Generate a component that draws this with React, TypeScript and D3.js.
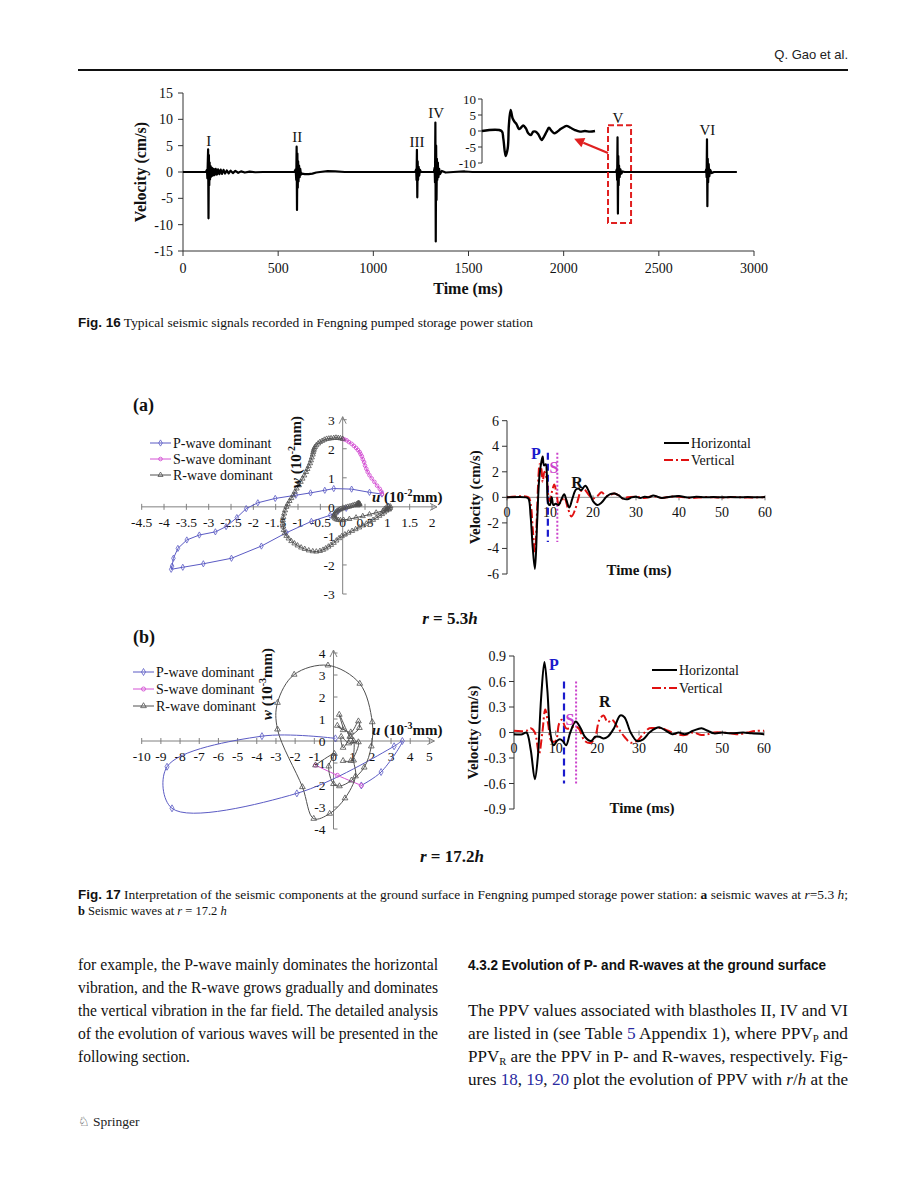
import React from "react";
import * as d3 from "d3";

type P = [number, number];

const SERIF = "'Liberation Serif','Times New Roman',Times,serif";
const NARROW = "'Liberation Sans Narrow','Liberation Sans',Arial,sans-serif";

// ---------------- Fig. 16 data ----------------
const f16XTicks = [0, 500, 1000, 1500, 2000, 2500, 3000];
const f16YTicks = [-15, -10, -5, 0, 5, 10, 15];
const f16Baseline: P[] = [[0, 0], [1000, 0], [1150, 0], [1700, 0], [2000, 0], [2500, 0], [2650, 0], [2910, 0]];
const burstI: P[] = [[120, 0], [126, 0.4], [128, -1.2], [130, 1.5], [132, 4.3], [134, -8.8], [136, 3.2], [138, -2.5], [140, 1.8], [142, -1.4], [145, 1.1], [148, -0.9], [152, 0.8], [156, -0.7], [161, 0.6], [166, -0.6], [172, 0.6], [178, -0.5], [184, 0.5], [191, -0.4], [198, 0.45], [205, -0.35], [213, 0.4], [221, -0.3], [230, 0.3], [240, -0.25], [250, 0.25], [262, -0.2], [275, 0.2], [290, -0.15], [305, 0.12], [325, -0.1], [350, 0.08], [380, -0.05], [420, 0]];
const burstII: P[] = [[585, 0], [592, 0.5], [595, -1.5], [597, 4.8], [599, -7.2], [601, 3.5], [603, -3], [605, 2], [607, -1.8], [610, 1.2], [613, -1], [616, 0.6], [620, -0.5], [625, -0.3], [640, -0.4], [660, -0.4], [680, -0.3], [700, -0.1], [720, 0], [760, 0.15], [800, 0.1], [850, 0]];
const burstIII: P[] = [[1220, 0], [1225, 0.5], [1227, -1.5], [1229, 4.2], [1231, -4.8], [1233, 2], [1235, -1.5], [1238, 1], [1241, -0.7], [1245, 0.4], [1250, 0]];
const burstIV: P[] = [[1318, 0], [1322, 0.8], [1324, -2], [1326, 9.4], [1328, -13.2], [1330, 5], [1332, -5.3], [1334, 2.5], [1336, -1.5], [1339, 1.8], [1342, -1.0], [1346, 0.6], [1350, -0.4], [1360, 0.2], [1380, -0.1], [1420, 0], [1480, 0.1], [1520, 0]];
const burstV: P[] = [[2275, 0], [2279, 0.5], [2281, -1.5], [2283, 6.6], [2285, -7.9], [2287, 3], [2289, -2.5], [2291, 1.2], [2294, -1], [2298, 0.5], [2303, -0.3], [2310, 0.1], [2320, 0]];
const burstVI: P[] = [[2745, 0], [2749, 0.5], [2751, -1], [2753, 6.2], [2755, -6.5], [2757, 2.5], [2759, -2], [2762, 1.5], [2765, -0.8], [2770, 0.4], [2778, -0.2], [2790, 0]];
const burstLabels = [
  { t: 135, v: 5.9, text: "I" },
  { t: 600, v: 6.6, text: "II" },
  { t: 1230, v: 5.7, text: "III" },
  { t: 1330, v: 11.2, text: "IV" },
  { t: 2285, v: 10.2, text: "V" },
  { t: 2755, v: 8.0, text: "VI" },
];
const insetYTicks = [-10, -5, 0, 5, 10];
const insetSignal: P[] = [[0, 0], [10.1, 0], [11, -2.3], [12.2, -7.8], [13.3, -5.4], [13.9, 1.9], [14.8, 6.6], [15.8, 4.0], [16.8, 2.9], [17.9, 2.1], [19.1, 0.6], [20.1, 1.0], [21.3, 1.7], [22.7, 0.8], [23.9, -0.7], [25.3, -1.25], [26.5, -0.2], [27.7, -0.2], [29.1, -1.0], [30.8, -2.8], [32, -1.8], [33.4, -0.2], [34.6, 1.0], [36, 0], [37.3, -0.7], [38.9, -0.2], [40.6, 0.6], [42.4, 1.25], [43.7, 1.6], [45.8, 1.0], [48, 0.3], [50.6, -0.2], [53.2, 0], [55.8, -0.2], [58.4, 0]];
const zoomBox = { t0: 2233, t1: 2354, v0: -9.7, v1: 8.9 };
const zoomArrow = { t0: 2233, v0: 3.6, t1: 2055, v1: 6.3 };

// ---------------- Fig. 17a hodograph ----------------
const hodoAXTicks = [-4.5, -4, -3.5, -3, -2.5, -2, -1.5, -1, -0.5, 0, 0.5, 1, 1.5, 2];
const hodoAYTicks = [-3, -2, -1, 0, 1, 2, 3];
const hodoA_P: P[] = [[0.08, -0.05], [-0.1, -0.15], [-0.28, -0.29], [-0.7, -0.5], [-1.26, -0.89], [-1.82, -1.35], [-2.49, -1.77], [-3.12, -1.96], [-3.58, -2.08], [-3.84, -2.15], [-3.82, -2.04], [-3.79, -1.77], [-3.69, -1.43], [-3.49, -1.14], [-3.21, -0.97], [-2.85, -0.86], [-2.61, -0.68], [-2.37, -0.37], [-2.16, -0.06], [-1.9, 0.14], [-1.51, 0.29], [-1.05, 0.4], [-0.72, 0.48], [-0.4, 0.57], [-0.2, 0.63], [0.2, 0.61], [0.6, 0.5], [0.88, 0.44]];
const hodoA_S: P[] = [[0.88, 0.44], [0.87, 0.52], [0.83, 0.62], [0.77, 0.73], [0.71, 0.86], [0.65, 0.98], [0.6, 1.09], [0.56, 1.2], [0.53, 1.31], [0.5, 1.42], [0.48, 1.54], [0.45, 1.64], [0.43, 1.74], [0.4, 1.82], [0.38, 1.89], [0.34, 1.96], [0.3, 2.03], [0.25, 2.1], [0.2, 2.17], [0.14, 2.23], [0.09, 2.29], [0.04, 2.32], [0.0, 2.34]];
const hodoA_R: P[] = [[0.0, 2.34], [-0.05, 2.36], [-0.1, 2.37], [-0.15, 2.38], [-0.2, 2.37], [-0.26, 2.36], [-0.31, 2.35], [-0.36, 2.34], [-0.41, 2.31], [-0.46, 2.27], [-0.51, 2.23], [-0.55, 2.18], [-0.59, 2.12], [-0.62, 2.06], [-0.64, 2.0], [-0.65, 1.94], [-0.66, 1.88], [-0.67, 1.8], [-0.69, 1.7], [-0.71, 1.6], [-0.73, 1.5], [-0.76, 1.4], [-0.79, 1.3], [-0.82, 1.2], [-0.86, 1.08], [-0.9, 0.97], [-0.94, 0.86], [-0.98, 0.74], [-1.03, 0.63], [-1.07, 0.52], [-1.11, 0.4], [-1.15, 0.3], [-1.19, 0.2], [-1.23, 0.1], [-1.26, 0.0], [-1.29, -0.12], [-1.31, -0.23], [-1.33, -0.35], [-1.34, -0.46], [-1.34, -0.57], [-1.33, -0.68], [-1.32, -0.8], [-1.3, -0.91], [-1.26, -1.0], [-1.21, -1.09], [-1.15, -1.18], [-1.08, -1.26], [-1.01, -1.33], [-0.93, -1.4], [-0.85, -1.45], [-0.76, -1.5], [-0.67, -1.53], [-0.59, -1.54], [-0.51, -1.52], [-0.44, -1.48], [-0.38, -1.43], [-0.32, -1.37], [-0.26, -1.31], [-0.2, -1.24], [-0.14, -1.16], [-0.08, -1.08], [-0.02, -1.01], [0.05, -0.95], [0.13, -0.89], [0.21, -0.83], [0.29, -0.77], [0.37, -0.71], [0.45, -0.64], [0.53, -0.58], [0.61, -0.51], [0.68, -0.45], [0.75, -0.38], [0.82, -0.31], [0.88, -0.25], [0.93, -0.19], [0.98, -0.13], [1.02, -0.08], [1.06, -0.04], [1.07, 0.01], [1.03, 0.03], [0.98, -0.02], [0.94, -0.07], [0.98, -0.1], [1.04, -0.09], [0.9, -0.14], [0.75, -0.2], [0.6, -0.26], [0.45, -0.32], [0.3, -0.37], [0.15, -0.42], [0.02, -0.45], [-0.05, -0.46], [-0.1, -0.45], [-0.14, -0.43], [-0.17, -0.4], [-0.19, -0.36], [-0.2, -0.32], [-0.19, -0.28], [-0.18, -0.24], [-0.16, -0.2], [-0.14, -0.16], [-0.11, -0.13], [-0.08, -0.1], [-0.05, -0.08], [-0.01, -0.06], [0.03, -0.04], [0.07, -0.02], [0.11, 0.0], [0.15, 0.01], [0.19, 0.03], [0.23, 0.05], [0.27, 0.07], [0.31, 0.09], [0.34, 0.11], [0.37, 0.12], [0.38, 0.1], [0.36, 0.07], [0.33, 0.05], [0.36, 0.09], [0.35, 0.13]];

// ---------------- Fig. 17b hodograph ----------------
const hodoBXTicks = [-10, -9, -8, -7, -6, -5, -4, -3, -2, -1, 0, 1, 2, 3, 4, 5];
const hodoBYTicks = [-4, -3, -2, -1, 0, 1, 2, 3, 4];
const hodoB_P: P[] = [[0.1, 0.12], [-3.73, 0.22], [-8.68, -1.17], [-8.42, -3.06], [-1.91, -2.38], [3.16, -0.24], [3.59, 0.0], [2.48, -1.41], [1.45, -2.02]];
const hodoB_S: P[] = [[1.45, -2.02], [0.2, -1.56], [-0.94, -1.1]];
const hodoB_R: P[] = [[-0.94, -1.1], [0.05, -0.58], [-0.25, -1.15], [0.0, -1.95], [0.31, -2.05], [0.94, -1.79], [1.6, -1.2], [1.97, -0.24], [2.02, 0.86], [1.37, 2.61], [-0.29, 3.44], [-2.05, 3.02], [-2.92, 1.74], [-2.92, 0.53], [-1.62, -2.09], [-1.03, -3.53], [-0.2, -3.3], [0.6, -2.6], [1.15, -1.6], [1.05, -0.88], [1.05, 0.0], [0.85, 0.2], [0.3, 1.2], [0.5, 0.5], [0.2, 0.7], [0.9, 0.4], [1.3, 0.9], [1.35, 0.6], [0.9, 0.2], [0.5, -0.3], [0.4, 0.2], [0.8, -0.1], [1.3, -0.05], [0.9, -0.9], [0.5, -0.9]];

// ---------------- Fig. 17 time histories ----------------
const tsXTicks = [0, 10, 20, 30, 40, 50, 60];
const tsAYTicks = [-6, -4, -2, 0, 2, 4, 6];
const tsBYTicks = [-0.9, -0.6, -0.3, 0, 0.3, 0.6, 0.9];
const tsBYLabels = ["-0.9", "-0.6", "-0.3", "0", "0.3", "0.6", "0.9"];
const tsA_H: P[] = [[0, 0], [4.5, 0], [5, -0.1], [5.5, -1.5], [6, -4], [6.5, -5.6], [7, -2], [7.5, 1.5], [8, 2.8], [8.3, 3.2], [8.6, 2.5], [9, 2.6], [9.3, 1.5], [9.6, -0.5], [10, -0.6], [10.4, 0.0], [10.8, -0.6], [11.3, -0.5], [12, -0.6], [12.6, -0.2], [13.3, 0.25], [13.8, -0.2], [14.5, -0.8], [15.2, -0.1], [16, 0.6], [16.6, 0.7], [17.2, 0.55], [18.2, 0.9], [19, 0.5], [20, -0.3], [21, -0.6], [22, -0.4], [23, 0], [24, 0.25], [25, 0.3], [26, 0.15], [27, -0.1], [28, -0.15], [29, 0], [30, 0.05], [31, -0.05], [32, 0.05], [33, 0], [34, 0.15], [35, 0.05], [36, -0.05], [38, 0.05], [40, 0.1], [42, -0.02], [44, 0.05], [46, 0], [48, 0.03], [50, 0], [52, 0.02], [54, 0], [56, 0.02], [58, 0], [60, 0.02]];
const tsA_V: P[] = [[0, 0], [5, 0], [5.5, -0.5], [6, -2.5], [6.5, -4.3], [7, -1], [7.3, 1.5], [7.6, 2.6], [8, 2.2], [8.3, 1.2], [8.7, 2.0], [9.2, 1.5], [9.6, 0.2], [10, -0.3], [10.5, 0.5], [11, 1.0], [11.5, 0.3], [12, -0.5], [12.5, -0.4], [13.3, 0], [14.2, -0.9], [15, -1.5], [15.8, -1.0], [16.5, -0.2], [17.2, 0.5], [18, 0.6], [19, 0.2], [20, -0.1], [21, 0.1], [22, 0.4], [23, 0.1], [24, 0.2], [25, 0.3], [26, 0.15], [27, -0.1], [28, 0], [30, 0.05], [32, -0.05], [34, 0.1], [36, -0.05], [38, 0.05], [40, 0.05], [43, -0.05], [46, 0.02], [50, -0.02], [53, 0.02], [56, -0.02], [60, 0.02]];
const tsB_H: P[] = [[0, -0.02], [2, -0.02], [3, 0.0], [4, -0.2], [5, -0.55], [5.7, -0.3], [6.5, 0.4], [7.3, 0.83], [8, 0.5], [8.7, 0], [9.5, -0.15], [10.3, -0.1], [11, -0.08], [11.7, -0.1], [12.5, -0.15], [13.5, 0], [14.8, 0.13], [16, 0.05], [17, -0.05], [18.5, -0.1], [19.5, -0.05], [20.5, -0.05], [21.5, -0.07], [22.5, -0.05], [24, 0.05], [25.5, 0.2], [26.5, 0.18], [28, 0], [29.5, -0.1], [31, -0.08], [32.5, 0], [34, 0.05], [35, 0.06], [36.5, 0.02], [38, -0.02], [39.5, 0], [41, -0.02], [43, 0.02], [45, 0.05], [46.5, 0.02], [48, -0.01], [50, 0], [52, -0.01], [55, 0], [57, -0.01], [60, -0.02]];
const tsB_V: P[] = [[0, 0.02], [3, 0.02], [4, 0.05], [5, 0], [6, -0.25], [6.8, 0], [7.5, 0.27], [8.2, 0.1], [9, -0.1], [10, -0.1], [10.8, 0.1], [11.5, 0.15], [12.5, 0.05], [13.5, 0.05], [14.5, 0.07], [15.5, 0.05], [17, -0.1], [18.5, -0.12], [19.5, -0.05], [20.5, 0.15], [21.5, 0.2], [22.5, 0.12], [23.5, 0.15], [25, 0.05], [26.5, -0.05], [28, -0.12], [29.5, -0.1], [31, -0.02], [32.5, 0.05], [34, 0.05], [35.5, 0.05], [37, 0.02], [39, -0.02], [41, -0.03], [43, 0], [45, -0.03], [46.5, -0.02], [48, 0], [50, 0], [52, -0.01], [54, -0.02], [56, 0], [58, 0.02], [60, 0.02]];
const tsALabels = [
  { t: 6.7, v: 3.47, text: "P", color: "#1a1acc" },
  { t: 10.9, v: 2.37, text: "S", color: "#cc44cc" },
  { t: 16.3, v: 1.2, text: "R", color: "#111" },
];
const tsBLabels = [
  { t: 9.6, v: 0.81, text: "P", color: "#1a1acc" },
  { t: 13.4, v: 0.16, text: "S", color: "#cc44cc" },
  { t: 21.8, v: 0.37, text: "R", color: "#111" },
];

const C_P = "#5b5bc4";
const C_S = "#d452d4";
const C_R = "#505050";

type Series = { name: string; data: P[]; color: string; marker: "diamond" | "circle" | "triangle" };

function Marker({ kind, x, y, color, size }: { kind: string; x: number; y: number; color: string; size: number }) {
  if (kind === "circle") return <circle cx={x} cy={y} r={size * 0.45} fill="none" stroke={color} strokeWidth={0.9} />;
  const t = kind === "diamond" ? d3.symbolDiamond : d3.symbolTriangle;
  const d = d3.symbol().type(t).size(size * size * 0.7)() as string;
  return <path d={d} transform={`translate(${x},${y})`} fill="none" stroke={color} strokeWidth={0.8} />;
}

function Hodograph(props: {
  xDomain: [number, number]; xRange: [number, number]; yDomain: [number, number]; yRange: [number, number];
  xTicks: number[]; yTicks: number[]; series: Series[]; smooth: boolean; mSize: number;
  legX: number; legY: number; legGap: number; wX: number; wY: number; uX: number; uY: number; exp: string;
}) {
  const x = d3.scaleLinear().domain(props.xDomain).range(props.xRange);
  const y = d3.scaleLinear().domain(props.yDomain).range(props.yRange);
  const x0 = x(0), y0 = y(0);
  const line = d3.line<P>().x(d => x(d[0])).y(d => y(d[1])).curve(props.smooth ? d3.curveCatmullRom.alpha(0.5) : d3.curveLinear);
  const xEnd = x(props.xDomain[1]) + 5;
  const yTop = y(props.yDomain[1]) - 3;
  const ax = "#808080";
  return (
    <g fontFamily={SERIF}>
      <line x1={x(props.xDomain[0])} x2={xEnd} y1={y0} y2={y0} stroke={ax} />
      <polyline points={`${xEnd - 7},${y0 - 3.5} ${xEnd},${y0} ${xEnd - 7},${y0 + 3.5}`} fill="none" stroke={ax} />
      <line x1={x0} x2={x0} y1={y(props.yDomain[0])} y2={yTop} stroke={ax} />
      <polyline points={`${x0 - 3.5},${yTop + 7} ${x0},${yTop} ${x0 + 3.5},${yTop + 7}`} fill="none" stroke={ax} />
      {props.xTicks.map(v => (
        <g key={"x" + v}>
          <line x1={x(v)} x2={x(v)} y1={y0 - 3} y2={y0 + 3} stroke={ax} />
          <text x={x(v)} y={y0 + 20} textAnchor="middle" fontSize={13.5} fill="#111">{v}</text>
        </g>
      ))}
      {props.yTicks.map(v => (
        <g key={"y" + v}>
          <line x1={x0} x2={x0 + 4} y1={y(v)} y2={y(v)} stroke={ax} />
          <text x={x0 - 8} y={y(v) + 5} textAnchor="end" fontSize={13.5} fill="#111">{v}</text>
        </g>
      ))}
      {props.series.map(s => (
        <g key={s.name}>
          <path d={line(s.data) as string} fill="none" stroke={s.color} strokeWidth={1} />
          {s.data.map((d, i) => <Marker key={i} kind={s.marker} x={x(d[0])} y={y(d[1])} color={s.color} size={props.mSize} />)}
        </g>
      ))}
      {props.series.map((s, i) => {
        const ly = props.legY + i * props.legGap;
        return (
          <g key={"l" + s.name}>
            <line x1={props.legX} x2={props.legX + 21} y1={ly} y2={ly} stroke={s.color} strokeWidth={1} />
            <Marker kind={s.marker} x={props.legX + 10.5} y={ly} color={s.color} size={props.mSize} />
            <text x={props.legX + 23} y={ly + 5} fontSize={14} fill="#111">{s.name}</text>
          </g>
        );
      })}
      <text transform={`translate(${props.wX},${props.wY}) rotate(-90)`} textAnchor="middle" fontSize={15} fontWeight="bold" fill="#111">
        <tspan fontStyle="italic">w</tspan> (10<tspan dy={-6} fontSize={10}>{props.exp}</tspan><tspan dy={6}>mm)</tspan>
      </text>
      <text x={props.uX} y={props.uY} fontSize={15} fontWeight="bold" fill="#111">
        <tspan fontStyle="italic">u</tspan> (10<tspan dy={-6} fontSize={10}>{props.exp}</tspan><tspan dy={6}>mm)</tspan>
      </text>
    </g>
  );
}

function TimeSeries(props: {
  xRange: [number, number]; yDomain: [number, number]; yRange: [number, number]; yTicks: number[]; yLabels: string[];
  horiz: P[]; vert: P[]; pT: number; sT: number; markV: number;
  labels: { t: number; v: number; text: string; color: string }[];
  legX: number; legY: number; legGap: number; velX: number; timeY: number;
}) {
  const x = d3.scaleLinear().domain([0, 60]).range(props.xRange);
  const y = d3.scaleLinear().domain(props.yDomain).range(props.yRange);
  const line = d3.line<P>().x(d => x(d[0])).y(d => y(d[1])).curve(d3.curveCatmullRom.alpha(0.5));
  const y0 = y(0);
  const ax = "#333";
  const cy = (props.yRange[0] + props.yRange[1]) / 2;
  return (
    <g fontFamily={SERIF}>
      <line x1={x(0)} x2={x(60)} y1={y0} y2={y0} stroke="#777" strokeWidth={0.8} />
      {tsXTicks.map(v => (
        <g key={"x" + v}>
          <line x1={x(v)} x2={x(v)} y1={y0 - 2} y2={y0 + 3} stroke="#777" />
          <text x={x(v)} y={y0 + 20} textAnchor="middle" fontSize={14} fill="#111">{v}</text>
        </g>
      ))}
      <line x1={x(0)} x2={x(0)} y1={props.yRange[0]} y2={props.yRange[1]} stroke={ax} />
      {props.yTicks.map((v, i) => (
        <g key={"y" + v}>
          <line x1={x(0) - 5} x2={x(0)} y1={y(v)} y2={y(v)} stroke={ax} />
          <text x={x(0) - 8} y={y(v) + 5} textAnchor="end" fontSize={14} fill="#111">{props.yLabels[i]}</text>
        </g>
      ))}
      <line x1={x(props.pT)} x2={x(props.pT)} y1={y(props.markV)} y2={y(-props.markV)} stroke="#1a1acc" strokeWidth={2.2} strokeDasharray="7,4" />
      <line x1={x(props.sT)} x2={x(props.sT)} y1={y(props.markV)} y2={y(-props.markV)} stroke="#cc44cc" strokeWidth={2} strokeDasharray="2,2" />
      <path d={line(props.vert) as string} fill="none" stroke="#e01010" strokeWidth={2} strokeDasharray="9,3,2,3" />
      <path d={line(props.horiz) as string} fill="none" stroke="#000" strokeWidth={2} />
      {props.labels.map(l => (
        <text key={l.text} x={x(l.t)} y={y(l.v) + 6} textAnchor="middle" fontSize={16} fontWeight="bold" fill={l.color}>{l.text}</text>
      ))}
      <line x1={props.legX} x2={props.legX + 25} y1={props.legY} y2={props.legY} stroke="#000" strokeWidth={2} />
      <text x={props.legX + 27} y={props.legY + 5} fontSize={14} fill="#111">Horizontal</text>
      <line x1={props.legX} x2={props.legX + 25} y1={props.legY + props.legGap} y2={props.legY + props.legGap} stroke="#e01010" strokeWidth={2} strokeDasharray="9,3,2,3" />
      <text x={props.legX + 27} y={props.legY + props.legGap + 5} fontSize={14} fill="#111">Vertical</text>
      <text transform={`translate(${props.velX},${cy}) rotate(-90)`} textAnchor="middle" fontSize={15} fontWeight="bold" fill="#111">Velocity (cm/s)</text>
      <text x={(props.xRange[0] + props.xRange[1]) / 2 + 3} y={props.timeY} textAnchor="middle" fontSize={15} fontWeight="bold" fill="#111">Time (ms)</text>
    </g>
  );
}

function Fig16() {
  const x = d3.scaleLinear().domain([0, 3000]).range([183, 754]);
  const y = d3.scaleLinear().domain([-15, 15]).range([251, 93]);
  const sig = [...f16Baseline, ...burstI, ...burstII, ...burstIII, ...burstIV, ...burstV, ...burstVI].sort((a, b) => a[0] - b[0]);
  const line = d3.line<P>().x(d => x(d[0])).y(d => y(d[1]));
  const ix = d3.scaleLinear().domain([0, 58.4]).range([482, 595]);
  const iy = d3.scaleLinear().domain([-10, 10]).range([163, 99]);
  const iline = d3.line<P>().x(d => ix(d[0])).y(d => iy(d[1])).curve(d3.curveCatmullRom.alpha(0.5));
  const ax = "#333";
  const a0x = x(zoomArrow.t0), a0y = y(zoomArrow.v0), a1x = x(zoomArrow.t1), a1y = y(zoomArrow.v1);
  const ang = Math.atan2(a1y - a0y, a1x - a0x);
  const hl = 10, hw = 5;
  const bx = a1x - hl * Math.cos(ang), by = a1y - hl * Math.sin(ang);
  const head = `${a1x},${a1y} ${bx + hw * Math.sin(ang)},${by - hw * Math.cos(ang)} ${bx - hw * Math.sin(ang)},${by + hw * Math.cos(ang)}`;
  return (
    <g fontFamily={SERIF}>
      <line x1={x(0)} x2={x(0)} y1={y(15)} y2={y(-15)} stroke={ax} />
      <line x1={x(0)} x2={x(3000)} y1={y(-15)} y2={y(-15)} stroke={ax} />
      {f16YTicks.map(v => (
        <g key={"y" + v}>
          <line x1={x(0) - 5} x2={x(0)} y1={y(v)} y2={y(v)} stroke={ax} />
          <text x={x(0) - 10} y={y(v) + 5} textAnchor="end" fontSize={14} fill="#111">{v}</text>
        </g>
      ))}
      {f16XTicks.map(v => (
        <g key={"x" + v}>
          <line x1={x(v)} x2={x(v)} y1={y(-15)} y2={y(-15) + 5} stroke={ax} />
          <text x={x(v)} y={y(-15) + 22} textAnchor="middle" fontSize={14} fill="#111">{v}</text>
        </g>
      ))}
      <path d={line(sig) as string} fill="none" stroke="#000" strokeWidth={2.2} strokeLinejoin="round" />
      {burstLabels.map(b => (
        <text key={b.text} x={x(b.t)} y={y(b.v) + 5} textAnchor="middle" fontSize={15} fill="#111">{b.text}</text>
      ))}
      <text transform={`translate(146,${y(0)}) rotate(-90)`} textAnchor="middle" fontSize={16} fontWeight="bold" fill="#111">Velocity (cm/s)</text>
      <text x={468} y={294} textAnchor="middle" fontSize={16} fontWeight="bold" fill="#111">Time (ms)</text>
      {/* inset */}
      <line x1={482} x2={482} y1={iy(10)} y2={iy(-10)} stroke={ax} />
      {insetYTicks.map(v => (
        <g key={"iy" + v}>
          <line x1={478} x2={482} y1={iy(v)} y2={iy(v)} stroke={ax} />
          <text x={476} y={iy(v) + 4.5} textAnchor="end" fontSize={13} fill="#111">{v}</text>
        </g>
      ))}
      <path d={iline(insetSignal) as string} fill="none" stroke="#000" strokeWidth={2.4} strokeLinejoin="round" />
      <rect x={x(zoomBox.t0)} y={y(zoomBox.v1)} width={x(zoomBox.t1) - x(zoomBox.t0)} height={y(zoomBox.v0) - y(zoomBox.v1)} fill="none" stroke="#e02020" strokeWidth={2} strokeDasharray="6,3" />
      <line x1={a0x} y1={a0y} x2={bx} y2={by} stroke="#e02020" strokeWidth={2.2} />
      <polygon points={head} fill="#e02020" />
    </g>
  );
}

const leftLines = [
  "for example, the P-wave mainly dominates the horizontal",
  "vibration, and the R-wave grows gradually and dominates",
  "the vertical vibration in the far field. The detailed analysis",
  "of the evolution of various waves will be presented in the",
];

export default function App() {
  const colL = 78, colLEnd = 438, colR = 468, colREnd = 848;
  const lh = 23;
  const b0 = 970;
  const link = "#2a2aa0";
  return (
    <svg width={900} height={1195} viewBox="0 0 900 1195" style={{ position: "absolute", left: 0, top: 0, background: "#fff" }} fontFamily={SERIF}>
      <rect x={0} y={0} width={900} height={1195} fill="#fff" />
      {/* header */}
      <text x={colREnd} y={59} textAnchor="end" fontFamily={NARROW} fontSize={13} fill="#222">Q. Gao et al.</text>
      <line x1={colL} x2={colREnd} y1={70} y2={70} stroke="#111" strokeWidth={2} />

      <Fig16 />
      <text x={colL} y={327} fontSize={12.5} fill="#111" textLength={455} lengthAdjust="spacingAndGlyphs">
        <tspan fontFamily={NARROW} fontWeight="bold">Fig. 16</tspan>
        <tspan>  Typical seismic signals recorded in Fengning pumped storage power station</tspan>
      </text>

      {/* Fig 17 */}
      <text x={133} y={411} fontSize={18} fontWeight="bold" fill="#111">(a)</text>
      <Hodograph xDomain={[-4.5, 2]} xRange={[141.7, 432]} yDomain={[-3, 3]} yRange={[594, 419.7]}
        xTicks={hodoAXTicks} yTicks={hodoAYTicks} smooth={false} mSize={4}
        series={[
          { name: "P-wave dominant", data: hodoA_P, color: C_P, marker: "diamond" },
          { name: "S-wave dominant", data: hodoA_S, color: C_S, marker: "circle" },
          { name: "R-wave dominant", data: hodoA_R, color: C_R, marker: "triangle" },
        ]}
        legX={150} legY={443} legGap={16} wX={301} wY={452} uX={372} uY={502} exp="-2" />
      <TimeSeries xRange={[507, 765]} yDomain={[-6, 6]} yRange={[574, 420.7]} yTicks={tsAYTicks} yLabels={tsAYTicks.map(String)}
        horiz={tsA_H} vert={tsA_V} pT={9.5} sT={11.7} markV={3.5} labels={tsALabels}
        legX={664} legY={443} legGap={17} velX={480} timeY={575} />
      <text x={450} y={624} textAnchor="middle" fontSize={17} fontWeight="bold" fill="#111">
        <tspan fontStyle="italic">r</tspan> = 5.3<tspan fontStyle="italic">h</tspan>
      </text>

      <text x={133} y={643} fontSize={18} fontWeight="bold" fill="#111">(b)</text>
      <Hodograph xDomain={[-10, 5]} xRange={[141.7, 429.4]} yDomain={[-4, 4]} yRange={[829, 653]}
        xTicks={hodoBXTicks} yTicks={hodoBYTicks} smooth={true} mSize={4.5}
        series={[
          { name: "P-wave dominant", data: hodoB_P, color: C_P, marker: "diamond" },
          { name: "S-wave dominant", data: hodoB_S, color: C_S, marker: "circle" },
          { name: "R-wave dominant", data: hodoB_R, color: C_R, marker: "triangle" },
        ]}
        legX={133} legY={672} legGap={17} wX={272} wY={684} uX={372} uY={735} exp="-3" />
      <TimeSeries xRange={[514, 764]} yDomain={[-0.9, 0.9]} yRange={[809, 656]} yTicks={tsBYTicks} yLabels={tsBYLabels}
        horiz={tsB_H} vert={tsB_V} pT={12} sT={14.9} markV={0.6} labels={tsBLabels}
        legX={652} legY={670} legGap={18} velX={478} timeY={813} />
      <text x={452} y={862} textAnchor="middle" fontSize={17} fontWeight="bold" fill="#111">
        <tspan fontStyle="italic">r</tspan> = 17.2<tspan fontStyle="italic">h</tspan>
      </text>

      {/* Fig 17 caption */}
      <text x={colL} y={899} fontSize={12.5} fill="#111" textLength={colREnd - colL} lengthAdjust="spacingAndGlyphs">
        <tspan fontFamily={NARROW} fontWeight="bold">Fig. 17</tspan>
        <tspan> Interpretation of the seismic components at the ground surface in Fengning pumped storage power station: </tspan>
        <tspan fontWeight="bold">a</tspan>
        <tspan> seismic waves at </tspan><tspan fontStyle="italic">r</tspan><tspan>=5.3 </tspan><tspan fontStyle="italic">h</tspan><tspan>;</tspan>
      </text>
      <text x={colL} y={915} fontSize={12.5} fill="#111">
        <tspan fontWeight="bold">b</tspan> Seismic waves at <tspan fontStyle="italic">r</tspan> = 17.2 <tspan fontStyle="italic">h</tspan>
      </text>

      {/* body text left */}
      {leftLines.map((s, i) => (
        <text key={i} x={colL} y={b0 + i * lh} fontSize={16} fill="#111" textLength={colLEnd - colL} lengthAdjust="spacingAndGlyphs">{s}</text>
      ))}
      <text x={colL} y={b0 + 4 * lh} fontSize={16} fill="#111" textLength={112} lengthAdjust="spacingAndGlyphs">following section.</text>

      {/* body text right */}
      <text x={colR} y={b0} fontFamily={NARROW} fontWeight="bold" fontSize={15} fill="#111" textLength={358} lengthAdjust="spacingAndGlyphs">4.3.2  Evolution of P- and R-waves at the ground surface</text>
      <text x={colR} y={b0 + 2 * lh} fontSize={16} fill="#111" textLength={colREnd - colR} lengthAdjust="spacingAndGlyphs">The PPV values associated with blastholes II, IV and VI</text>
      <text x={colR} y={b0 + 3 * lh} fontSize={16} fill="#111" textLength={colREnd - colR} lengthAdjust="spacingAndGlyphs">
        are listed in (see Table <tspan fill={link}>5</tspan> Appendix 1), where PPV<tspan fontSize={10} dy={3}>P</tspan><tspan dy={-3}> and</tspan>
      </text>
      <text x={colR} y={b0 + 4 * lh} fontSize={16} fill="#111" textLength={colREnd - colR} lengthAdjust="spacingAndGlyphs">
        PPV<tspan fontSize={10} dy={3}>R</tspan><tspan dy={-3}> are the PPV in P- and R-waves, respectively. Fig-</tspan>
      </text>
      <text x={colR} y={b0 + 5 * lh} fontSize={16} fill="#111" textLength={colREnd - colR} lengthAdjust="spacingAndGlyphs">
        ures <tspan fill={link}>18</tspan>, <tspan fill={link}>19</tspan>, <tspan fill={link}>20</tspan> plot the evolution of PPV with <tspan fontStyle="italic">r</tspan>/<tspan fontStyle="italic">h</tspan> at the
      </text>

      {/* footer */}
      <text x={colL} y={1126} fontFamily="'DejaVu Sans',sans-serif" fontSize={13} fill="#333">♘</text>
      <text x={colL + 15} y={1126} fontSize={13.5} fill="#222">Springer</text>
    </svg>
  );
}
